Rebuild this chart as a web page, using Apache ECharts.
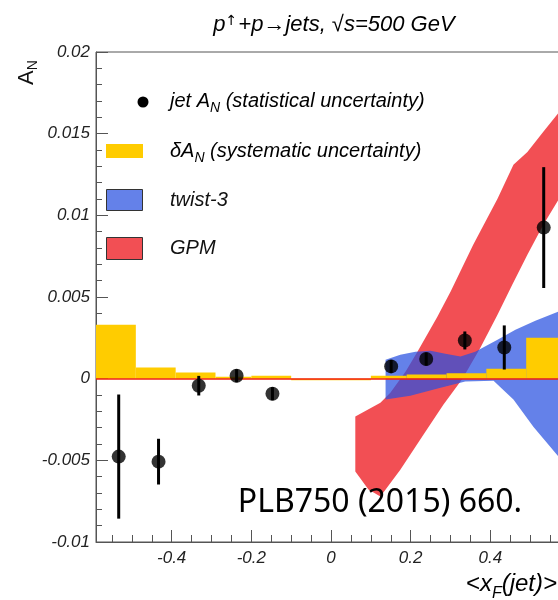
<!DOCTYPE html>
<html><head><meta charset="utf-8">
<script src="https://cdn.jsdelivr.net/npm/echarts@6/dist/echarts.min.js"></script>
<style>html,body{margin:0;padding:0;background:#fff}#c{width:558px;height:600px}</style>
</head><body><div id="c"></div>
<script>
// ---- data ----
const xTickLabels = [-0.4, -0.2, 0, 0.2, 0.4];
const xMinorTicks = [-0.55, -0.5, -0.45, -0.35, -0.3, -0.25, -0.15, -0.1, -0.05, 0.05, 0.1, 0.15, 0.25, 0.3, 0.35, 0.45, 0.5, 0.55];
const yTickLabels = [-0.01, -0.005, 0, 0.005, 0.01, 0.015, 0.02];
const yMinorTicks = [-0.009, -0.008, -0.007, -0.006, -0.004, -0.003, -0.002, -0.001, 0.001, 0.002, 0.003, 0.004, 0.006, 0.007, 0.008, 0.009, 0.011, 0.012, 0.013, 0.014, 0.016, 0.017, 0.018, 0.019];

const jetX   = [-0.533, -0.433, -0.332, -0.237, -0.147, 0.151, 0.239, 0.336, 0.435, 0.534];
const jetY   = [-0.00477, -0.00508, -0.00043, 0.00018, -0.00092, 0.00075, 0.0012, 0.00234, 0.00191, 0.00925];
const jetErr = [0.0038, 0.0014, 0.0006, 0.0004, 0.0004, 0.0004, 0.0004, 0.00055, 0.00135, 0.0037];

const sysEdges  = [-0.59, -0.49, -0.39, -0.29, -0.2, -0.1, 0.1, 0.19, 0.29, 0.39, 0.49, 0.6];
const sysValues = [0.0033, 0.00068, 0.00037, 0.00012, 0.00018, -0.0001, 0.00018, 0.00025, 0.00033, 0.0006, 0.0025];

const twistUpper = [[0.137,0.00116],[0.174,0.00147],[0.212,0.00165],[0.25,0.00171],[0.287,0.00153],[0.325,0.00135],[0.362,0.00165],[0.418,0.00239],[0.463,0.003],[0.513,0.00355],[0.571,0.0041],[0.6,0.0044]];
const twistLower = [[0.137,-0.00128],[0.199,-0.00104],[0.275,-0.00055],[0.337,-0.00018],[0.408,-0.00012],[0.458,-0.00128],[0.508,-0.00294],[0.571,-0.00477],[0.6,-0.0057]];

const gpmUpper = [[0.061,-0.00232],[0.124,-0.00147],[0.149,-0.00086],[0.187,0.00043],[0.217,0.00165],[0.267,0.00379],[0.3,0.00532],[0.357,0.0082],[0.418,0.01101],[0.458,0.01309],[0.493,0.01388],[0.533,0.01511],[0.571,0.01627],[0.6,0.0172]];
const gpmLower = [[0.061,-0.00569],[0.094,-0.00679],[0.124,-0.00722],[0.174,-0.00557],[0.232,-0.00343],[0.282,-0.00159],[0.33,0.0],[0.375,0.0019],[0.418,0.00391],[0.455,0.00575],[0.493,0.00758],[0.533,0.00942],[0.571,0.01095],[0.6,0.0121]];

// ---- chart ----
const FONT = 'Liberation Sans';
const chart = echarts.init(document.getElementById('c'), null, {renderer: 'canvas'});

function bandSeries(name, upper, lower, color, z) {
  const pts = upper.concat(lower.slice().reverse());
  return {
    type: 'custom', name: name, z: z, silent: true,
    data: pts,
    renderItem: function (params, api) {
      if (params.dataIndex !== 0) return null;
      const poly = pts.map(p => api.coord(p));
      return {type: 'polygon', shape: {points: poly}, style: {fill: color, stroke: null}};
    }
  };
}

const sysData = sysValues.map((v, i) => [sysEdges[i], sysEdges[i + 1], v]);

const option = {
  animation: false,
  grid: {left: 96, top: 52, right: -12, bottom: 58, outerBoundsMode: 'none', containLabel: false,
         show: true, borderColor: '#555', borderWidth: 1, backgroundColor: 'transparent'},
  xAxis: [
    {type: 'value', min: -0.59, max: 0.6, position: 'bottom',
     axisLine: {show: true, onZero: false, lineStyle: {color: '#555', width: 1}},
     axisTick: {show: true, inside: true, length: 12, customValues: xTickLabels, lineStyle: {color: '#555'}},
     axisLabel: {show: true, customValues: xTickLabels, margin: 8, fontFamily: FONT, fontStyle: 'italic', fontSize: 17, color: '#222',
                 formatter: v => String(v)},
     splitLine: {show: false}},
    {type: 'value', min: -0.59, max: 0.6, position: 'bottom',
     axisLine: {show: false, onZero: false},
     axisTick: {show: true, inside: true, length: 7, customValues: xMinorTicks, lineStyle: {color: '#555'}},
     axisLabel: {show: false}, splitLine: {show: false}}
  ],
  yAxis: [
    {type: 'value', min: -0.01, max: 0.02, position: 'left',
     axisLine: {show: true, onZero: false, lineStyle: {color: '#555', width: 1}},
     axisTick: {show: true, inside: true, length: 12, customValues: yTickLabels, lineStyle: {color: '#555'}},
     axisLabel: {show: true, customValues: yTickLabels, margin: 6, fontFamily: FONT, fontStyle: 'italic', fontSize: 17, color: '#222',
                 formatter: v => String(v)},
     splitLine: {show: false}},
    {type: 'value', min: -0.01, max: 0.02, position: 'left',
     axisLine: {show: false, onZero: false},
     axisTick: {show: true, inside: true, length: 6, customValues: yMinorTicks, lineStyle: {color: '#555'}},
     axisLabel: {show: false}, splitLine: {show: false}},
    {type: 'value', min: -0.01, max: 0.02, position: 'left', offset: 68,
     axisLine: {show: false, onZero: false}, axisTick: {show: false}, axisLabel: {show: false}, splitLine: {show: false},
     name: '{m|A}{s|N}', nameLocation: 'end', nameRotate: 90, nameGap: -33,
     nameTextStyle: {rich: {m: {fontFamily: FONT, fontSize: 22, color: '#111', verticalAlign: 'top'},
                            s: {fontFamily: FONT, fontSize: 14, color: '#111', verticalAlign: 'bottom', padding: [10, 0, 0, 0]}}}}
  ],
  series: [
    bandSeries('GPM', gpmUpper, gpmLower, 'rgba(238,30,36,0.78)', 2),
    bandSeries('twist-3', twistUpper, twistLower, 'rgba(40,80,225,0.72)', 3),
    {
      type: 'custom', name: 'sys', z: 4, silent: true,
      data: sysData,
      renderItem: function (params, api) {
        const p0 = api.coord([api.value(0), 0]);
        const p1 = api.coord([api.value(1), api.value(2)]);
        const y = Math.min(p0[1], p1[1]);
        const h = Math.max(Math.abs(p1[1] - p0[1]), 1.5);
        return {type: 'rect', shape: {x: p0[0], y: y, width: p1[0] - p0[0], height: h}, style: {fill: '#ffcc00'}};
      },
      markLine: {silent: true, symbol: 'none', label: {show: false}, z: 5,
                 lineStyle: {color: '#f02010', width: 1.5, type: 'solid'},
                 data: [{yAxis: 0}]}
    },
    {
      type: 'custom', name: 'err', z: 6, silent: true,
      data: jetX.map((x, i) => [x, jetY[i], jetErr[i]]),
      renderItem: function (params, api) {
        const x = api.value(0), y = api.value(1), e = api.value(2);
        const a = api.coord([x, y - e]), b = api.coord([x, y + e]);
        return {type: 'line', shape: {x1: a[0], y1: a[1], x2: b[0], y2: b[1]}, style: {stroke: '#000', lineWidth: 3}};
      }
    },
    {
      type: 'scatter', name: 'jet', z: 7, silent: true,
      symbol: 'circle', symbolSize: 14,
      itemStyle: {color: '#000'},
      data: jetX.map((x, i) => [x, jetY[i]])
    }
  ],
  graphic: [
    // title
    {type: 'text', x: 334, y: 25, z: 100,
     style: {text: '{m|p}{u|↑}{m|+p→jets, √s=500 GeV}', align: 'center', verticalAlign: 'middle',
             rich: {m: {fontFamily: FONT, fontStyle: 'italic', fontSize: 22, color: '#111', verticalAlign: 'bottom'},
                    u: {fontFamily: 'DejaVu Sans', fontSize: 14, color: '#111', verticalAlign: 'top', padding: [0, 1, 0, 0]}}}},
    // x axis name
    {type: 'text', x: 557, y: 587, z: 100,
     style: {text: '{m|<x}{s|F}{m|(jet)>}', align: 'right', verticalAlign: 'middle',
             rich: {m: {fontFamily: FONT, fontStyle: 'italic', fontSize: 24, color: '#111', verticalAlign: 'top'},
                    s: {fontFamily: FONT, fontStyle: 'italic', fontSize: 16, color: '#111', verticalAlign: 'bottom', padding: [13, 0, 0, 0]}}}},
    // legend
    {type: 'circle', shape: {cx: 143, cy: 102, r: 5.5}, style: {fill: '#000'}, z: 100},
    {type: 'text', x: 170, y: 103, z: 100,
     style: {text: '{m|jet A}{s|N}{m| (statistical uncertainty)}', verticalAlign: 'middle',
             rich: {m: {fontFamily: FONT, fontStyle: 'italic', fontSize: 20, color: '#111', verticalAlign: 'top'},
                    s: {fontFamily: FONT, fontStyle: 'italic', fontSize: 14, color: '#111', verticalAlign: 'bottom', padding: [10, 0, 0, 0]}}}},
    {type: 'rect', shape: {x: 106, y: 144, width: 37, height: 14}, style: {fill: '#ffcc00'}, z: 100},
    {type: 'text', x: 170, y: 153, z: 100,
     style: {text: '{m|δA}{s|N}{m| (systematic uncertainty)}', verticalAlign: 'middle',
             rich: {m: {fontFamily: FONT, fontStyle: 'italic', fontSize: 20, color: '#111', verticalAlign: 'top'},
                    s: {fontFamily: FONT, fontStyle: 'italic', fontSize: 14, color: '#111', verticalAlign: 'bottom', padding: [10, 0, 0, 0]}}}},
    {type: 'rect', shape: {x: 106.5, y: 189.5, width: 36, height: 21}, style: {fill: 'rgba(40,80,225,0.72)', stroke: '#333', lineWidth: 1}, z: 100},
    {type: 'text', x: 170, y: 200, z: 100,
     style: {text: 'twist-3', verticalAlign: 'middle', fontFamily: FONT, fontStyle: 'italic', fontSize: 20, fill: '#111'}},
    {type: 'rect', shape: {x: 106.5, y: 237.5, width: 36, height: 22}, style: {fill: 'rgba(238,30,36,0.78)', stroke: '#333', lineWidth: 1}, z: 100},
    {type: 'text', x: 170, y: 248, z: 100,
     style: {text: 'GPM', verticalAlign: 'middle', fontFamily: FONT, fontStyle: 'italic', fontSize: 20, fill: '#111'}},
    // reference note
    {type: 'text', x: 380, y: 503, z: 100,
     style: {text: 'PLB750 (2015) 660.', align: 'center', verticalAlign: 'middle', fontFamily: 'Noto Sans', fontSize: 32, fill: '#000'}}
  ]
};
chart.setOption(option);
</script></body></html>
